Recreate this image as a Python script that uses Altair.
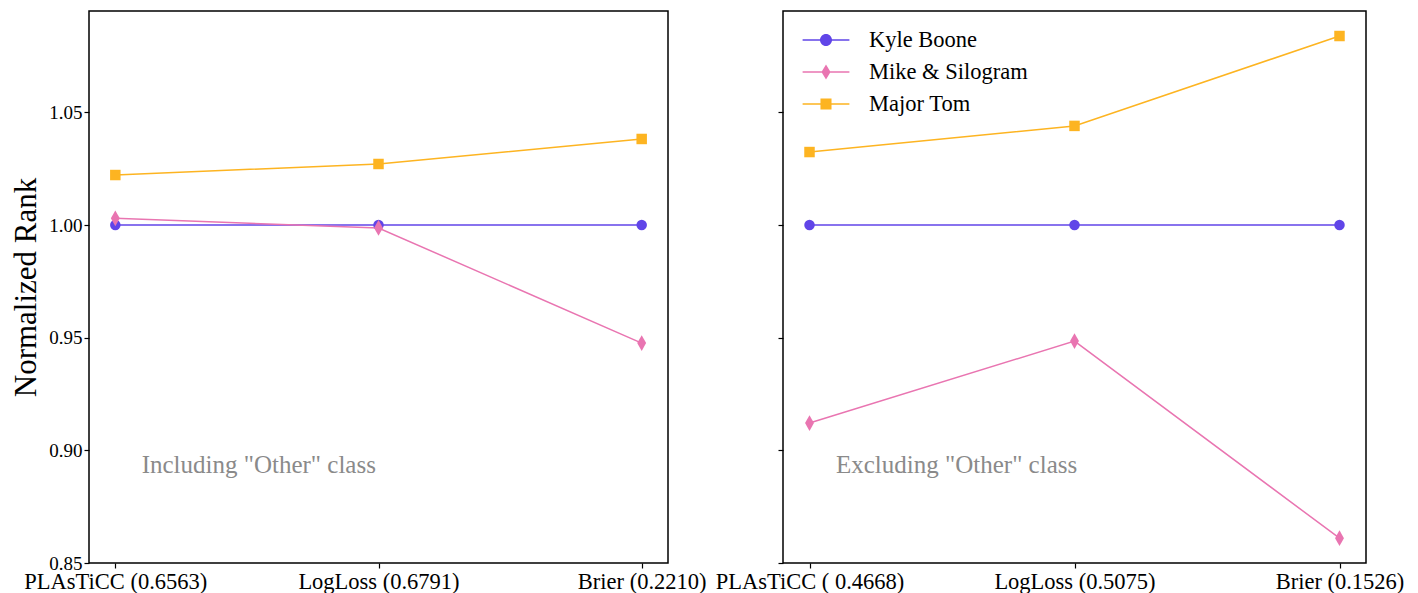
import altair as alt
import pandas as pd

teams = ["Kyle Boone", "Mike & Silogram", "Major Tom"]
colors = ["#6045E8", "#E975B1", "#FDB421"]

left_labels = ["PLAsTiCC (0.6563)", "LogLoss (0.6791)", "Brier (0.2210)"]
right_labels = ["PLAsTiCC ( 0.4668)", "LogLoss (0.5075)", "Brier (0.1526)"]

left_kyle = [1.0, 1.0, 1.0]
left_mike = [1.003, 0.9987, 0.9476]
left_major = [1.0222, 1.0271, 1.0382]

right_kyle = [1.0, 1.0, 1.0]
right_mike = [0.9121, 0.9485, 0.861]
right_major = [1.0324, 1.044, 1.0839]

left_note = "Including \"Other\" class"
right_note = "Excluding \"Other\" class"
note_x = 0.1
note_y = 0.8934

FONT = "Liberation Serif"

# marker shapes (plot) and legend symbols (line + marker), unit = 12 px in legend
marker_paths = [
    "circle",
    "M0,-1.5L0.85,0L0,1.5L-0.85,0Z",
    "square",
]
legend_paths = [
    "M-1.95,-0.065H1.95V0.065H-1.95Z M0.5,0A0.5,0.5,0,1,1,-0.5,0A0.5,0.5,0,1,1,0.5,0Z",
    "M-1.95,-0.065H1.95V0.065H-1.95Z M0,-0.62L0.38,0L0,0.62L-0.38,0Z",
    "M-1.95,-0.065H1.95V0.065H-1.95Z M-0.46,-0.46H0.46V0.46H-0.46Z",
]


def js_list(items):
    return "[" + ",".join("'" + s.replace("'", "\\'") + "'" for s in items) + "]"


def make_df(series):
    rows = []
    for team, vals in zip(teams, series):
        for i, v in enumerate(vals):
            rows.append({"team": team, "idx": i, "value": v})
    return pd.DataFrame(rows)


def panel(df, labels, note, width, show_y_labels, with_legend):
    x = alt.X(
        "idx:Q",
        scale=alt.Scale(domain=[-0.1, 2.1], nice=False, zero=False),
        axis=alt.Axis(
            values=[0, 1, 2],
            labelExpr=js_list(labels) + "[datum.value]",
            title=None,
            grid=False,
            domain=False,
            labelOverlap=False,
            labelFlush=False,
            labelBound=False,
            labelFontSize=22.5,
            labelLimit=0,
        ),
    )
    y = alt.Y(
        "value:Q",
        scale=alt.Scale(domain=[0.85, 1.095], nice=False, zero=False),
        axis=alt.Axis(
            values=[0.85, 0.90, 0.95, 1.00, 1.05],
            format=".2f",
            grid=False,
            domain=False,
            labels=show_y_labels,
            labelFontSize=19,
            title="Normalized Rank" if show_y_labels else None,
            titleFont=FONT,
            titleFontSize=31,
            titleFontWeight="normal",
            titleColor="black",
            titlePadding=6,
        ),
    )
    color = alt.Color(
        "team:N", scale=alt.Scale(domain=teams, range=colors), legend=None
    )
    base = alt.Chart(df)
    lines = base.mark_line(strokeWidth=1.5).encode(
        x=x, y=y, color=color, detail="team:N"
    )
    points = (
        base.transform_calculate(
            mk=js_list(marker_paths) + "[indexof(" + js_list(teams) + ", datum.team)]"
        )
        .mark_point(filled=True, size=110, opacity=1)
        .encode(x=x, y=y, color=color, shape=alt.Shape("mk:N", scale=None))
    )
    text = (
        alt.Chart(pd.DataFrame({"x": [note_x], "y": [note_y], "t": [note]}))
        .mark_text(
            align="left",
            baseline="middle",
            font=FONT,
            fontSize=25,
            color="#8a8a8a",
        )
        .encode(x=alt.X("x:Q"), y=alt.Y("y:Q"), text="t:N")
    )
    layers = [lines, points, text]
    if with_legend:
        leg = alt.Legend(
            title=None,
            orient="none",
            legendX=31,
            legendY=17,
            symbolSize=576,
            symbolStrokeWidth=0,
            labelFont=FONT,
            labelFontSize=22.5,
            labelColor="black",
            labelOffset=31,
            labelLimit=0,
            rowPadding=8,
            padding=0,
        )
        legend_layer = (
            alt.Chart(df)
            .transform_filter("false")
            .mark_point(filled=True, opacity=1)
            .encode(
                x=x,
                y=y,
                color=alt.Color(
                    "team:N", scale=alt.Scale(domain=teams, range=colors), legend=leg
                ),
                shape=alt.Shape(
                    "team:N", scale=alt.Scale(domain=teams, range=legend_paths), legend=leg
                ),
            )
        )
        layers.append(legend_layer)
    ch = alt.layer(*layers).properties(width=width, height=552)
    if with_legend:
        ch = ch.resolve_scale(color="independent", shape="independent")
    return ch


left = panel(make_df([left_kyle, left_mike, left_major]), left_labels, left_note,
             579, True, False)
right = panel(make_df([right_kyle, right_mike, right_major]), right_labels, right_note,
              583, False, True)

chart = (
    alt.hconcat(left, right, spacing=115, bounds="flush")
    .resolve_scale(color="independent", shape="independent")
    .properties(padding={"top": 2, "left": 2, "right": 5, "bottom": 0})
    .configure_view(stroke="black", strokeWidth=1.5)
    .configure_axis(
        labelFont=FONT,
        labelColor="black",
        tickColor="black",
        tickWidth=1.2,
        tickSize=5,
        labelPadding=2,
    )
)

chart.save("out.html", embed_options={"renderer": "svg", "actions": False})
